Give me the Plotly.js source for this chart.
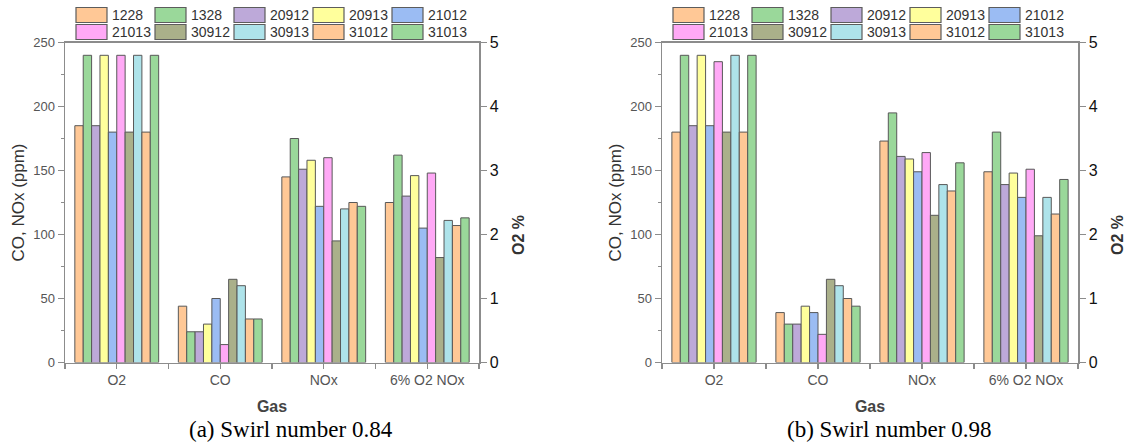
<!DOCTYPE html>
<html>
<head>
<meta charset="utf-8">
<script src="https://cdn.plot.ly/plotly-3.0.1.min.js"></script>
<style>html,body{margin:0;padding:0;background:#fff;}#chart{width:1125px;height:447px;}</style>
</head>
<body>
<div id="chart"></div>
<script>
// ---------- data ----------
const categories = ['O2', 'CO', 'NOx', '6% O2 NOx'];
const seriesNames = ['1228', '1328', '20912', '20913', '21012', '21013', '30912', '30913', '31012', '31013'];
const seriesColors = ['#FFC896', '#9AD89A', '#BDA9D9', '#FFFF9C', '#9BBCF3', '#FFA9F6', '#AAB08A', '#AEE3EA', '#FFC896', '#9AD89A'];

// Panel (a) Swirl number 0.84 : values per series for [O2, CO, NOx, 6% O2 NOx]
const a1228  = [185, 44, 145, 125];
const a1328  = [240, 24, 175, 162];
const a20912 = [185, 24, 151, 130];
const a20913 = [240, 30, 158, 146];
const a21012 = [180, 50, 122, 105];
const a21013 = [240, 14, 160, 148];
const a30912 = [180, 65, 95, 82];
const a30913 = [240, 60, 120, 111];
const a31012 = [180, 34, 125, 107];
const a31013 = [240, 34, 122, 113];

// Panel (b) Swirl number 0.98
const b1228  = [180, 39, 173, 149];
const b1328  = [240, 30, 195, 180];
const b20912 = [185, 30, 161, 139];
const b20913 = [240, 44, 159, 148];
const b21012 = [185, 39, 149, 129];
const b21013 = [235, 22, 164, 151];
const b30912 = [180, 65, 115, 99];
const b30913 = [240, 60, 139, 129];
const b31012 = [180, 50, 134, 116];
const b31013 = [240, 44, 156, 143];

const panelA = [a1228, a1328, a20912, a20913, a21012, a21013, a30912, a30913, a31012, a31013];
const panelB = [b1228, b1328, b20912, b20913, b21012, b21013, b30912, b30913, b31012, b31013];

const leftTicks = [0, 50, 100, 150, 200, 250];
const rightTicks = [0, 1, 2, 3, 4, 5];
const captions = ['(a) Swirl number 0.84', '(b) Swirl number 0.98'];
const rightTitle = 'O2 %';

// ---------- layout helpers ----------
const W = 1125, H = 447;
const px = v => v / W;
const py = v => 1 - v / H;
const panels = [
  {left: 65, right: 479, xa: 'x', ya: 'y', xc: 'x3', yr: 'y2', vals: panelA},
  {left: 662, right: 1078, xa: 'x2', ya: 'y3', xc: 'x4', yr: 'y4', vals: panelB}
];
const plotTop = 42.5, plotBottom = 362.5;

const axisColor = '#8c8c8c';
const sans = 'Liberation Sans, Arial, sans-serif';

const traces = [];
panels.forEach((p, pi) => {
  p.vals.forEach((vals, i) => {
    traces.push({
      type: 'bar',
      x: categories,
      y: vals,
      name: seriesNames[i],
      xaxis: p.xa,
      yaxis: p.ya,
      showlegend: false,
      marker: {color: seriesColors[i], line: {color: '#585858', width: 1}},
      hoverinfo: 'x+y+name'
    });
  });
  // empty helper traces so the right-hand O2 % axis and the centre-tick axis get drawn
  traces.push({type: 'scatter', mode: 'markers', x: [], y: [], xaxis: p.xa, yaxis: p.yr, showlegend: false, hoverinfo: 'skip'});
  traces.push({type: 'scatter', mode: 'markers', x: [], y: [], xaxis: p.xc, yaxis: p.ya, showlegend: false, hoverinfo: 'skip'});
});

const yDomain = [py(plotBottom), py(plotTop)];

function catAxis(p) {
  return {
    domain: [px(p.left), px(p.right)],
    type: 'category',
    categoryorder: 'array',
    categoryarray: categories,
    range: [-0.5, categories.length - 0.5],
    tickson: 'boundaries',
    ticks: 'outside', ticklen: 5, tickwidth: 1.2, tickcolor: axisColor,
    ticklabelstandoff: 4,
    showline: true, linecolor: axisColor, linewidth: 1.5, mirror: true,
    showgrid: false, zeroline: false,
    tickfont: {family: sans, size: 14, color: '#555'},
    title: {text: 'Gas', font: {family: sans, size: 16, color: '#444', weight: 'bold'}, standoff: 14},
    automargin: false
  };
}
function centerTickAxis(base, anchor) {
  return {
    overlaying: base, anchor: anchor,
    type: 'linear',
    range: [-0.5, categories.length - 0.5],
    tickmode: 'array',
    tickvals: categories.map((c, i) => i),
    showticklabels: false,
    ticks: 'outside', ticklen: 5, tickwidth: 1.2, tickcolor: axisColor,
    showline: false, showgrid: false, zeroline: false, side: 'bottom'
  };
}
function leftAxis(anchor) {
  return {
    domain: yDomain, anchor: anchor,
    range: [0, 250],
    tickmode: 'array', tickvals: leftTicks,
    ticks: 'outside', ticklen: 6, tickwidth: 1.2, tickcolor: axisColor,
    minor: {tickmode: 'linear', tick0: 25, dtick: 50, ticks: 'outside', ticklen: 3, tickcolor: axisColor, showgrid: false},
    showline: true, linecolor: axisColor, linewidth: 1.5,
    showgrid: false, zeroline: false,
    tickfont: {family: sans, size: 13, color: '#555'},
    title: {text: 'CO, NOx (ppm)', font: {family: sans, size: 17, color: '#333'}, standoff: 4},
    automargin: false
  };
}
function rightAxis(base, anchor) {
  return {
    overlaying: base, anchor: anchor, side: 'right',
    range: [0, 5],
    tickmode: 'array', tickvals: rightTicks,
    ticks: 'outside', ticklen: 6, tickwidth: 1.2, tickcolor: axisColor,
    showline: true, linecolor: axisColor, linewidth: 1.5,
    showgrid: false, zeroline: false,
    tickfont: {family: sans, size: 16, color: '#111'},
    automargin: false
  };
}

// custom legend (swatches + labels) built from seriesNames / seriesColors
const shapes = [];
const annotations = [];
panels.forEach((p) => {
  seriesNames.forEach((nm, i) => {
    const col = i % 5, row = Math.floor(i / 5);
    const x0 = p.left + 11 + col * 79;
    const y0 = 7.5 + row * 17;
    shapes.push({
      type: 'rect', xref: 'paper', yref: 'paper',
      x0: px(x0), x1: px(x0 + 31), y0: py(y0), y1: py(y0 + 15),
      fillcolor: seriesColors[i], line: {color: '#5c5c5c', width: 1.2}
    });
    annotations.push({
      xref: 'paper', yref: 'paper', x: px(x0 + 34), y: py(y0 + 7.5),
      xanchor: 'left', yanchor: 'middle', showarrow: false,
      text: nm, font: {family: sans, size: 14, color: '#333'}
    });
  });
  // right-hand axis title (sits a little below the axis centre in the reference)
  annotations.push({
    xref: 'paper', yref: 'paper', x: px(p.right + 39), y: py(235),
    xanchor: 'center', yanchor: 'middle', showarrow: false, textangle: -90,
    text: rightTitle, font: {family: sans, size: 16, color: '#333', weight: 'bold'}
  });
});
panels.forEach((p, pi) => {
  annotations.push({
    xref: 'paper', yref: 'paper', x: px((p.left + p.right) / 2 + 19), y: py(429),
    xanchor: 'center', yanchor: 'middle', showarrow: false,
    text: captions[pi], font: {family: 'Liberation Serif, Times New Roman, serif', size: 23, color: '#000'}
  });
});

const layout = {
  width: W, height: H,
  margin: {l: 0, r: 0, t: 0, b: 0, pad: 0},
  paper_bgcolor: '#fff', plot_bgcolor: '#fff',
  barmode: 'group', bargap: 0.19, bargroupgap: 0,
  showlegend: false,
  xaxis: Object.assign(catAxis(panels[0]), {anchor: 'y'}),
  xaxis2: Object.assign(catAxis(panels[1]), {anchor: 'y3'}),
  xaxis3: centerTickAxis('x', 'y'),
  xaxis4: centerTickAxis('x2', 'y3'),
  yaxis: leftAxis('x'),
  yaxis2: rightAxis('y', 'x'),
  yaxis3: leftAxis('x2'),
  yaxis4: rightAxis('y3', 'x2'),
  shapes: shapes,
  annotations: annotations
};

Plotly.newPlot('chart', traces, layout, {displayModeBar: false, staticPlot: true});
</script>
</body>
</html>
